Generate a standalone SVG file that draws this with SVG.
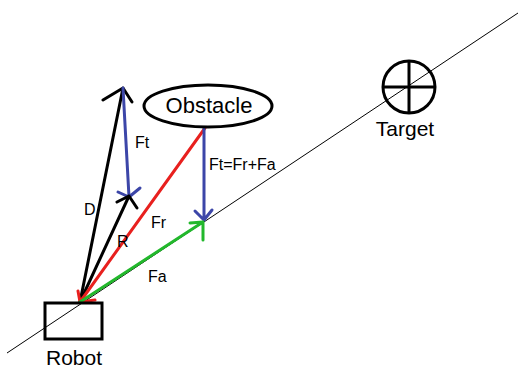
<svg xmlns="http://www.w3.org/2000/svg" width="518" height="369" viewBox="0 0 518 369">
<style>
.t{font-family:"Liberation Sans",Arial,sans-serif;fill:#000}
.v{fill:none;stroke-width:3;stroke-linecap:round;stroke-linejoin:round}
.k{stroke:#000}.b{stroke:#3c46a8}.r{stroke:#e8201e}.g{stroke:#22b82c}
</style>
<rect width="518" height="369" fill="#fff"/>
<g id="connectors">
<line x1="7" y1="353" x2="518" y2="13" stroke="#000" stroke-width="1"/>
<path class="v k" d="M80 302L123 88M103 100L123 88L132 102"/>
<path class="v b" d="M123 88L129 197M118 192L129 197L140 188"/>
<path class="v k" d="M80 302L129 196M117 202L129 196L137 208"/>
<path class="v r" d="M205 128L80 302M78 291L80 302L95 300"/>
<path class="v b" d="M204 128L204 220M195 211L204 220L212 210"/>
<path class="v g" d="M80 302L203 222M190 223L203 222L203 240"/>
<text class="t" x="135" y="148" font-size="16">Ft</text>
<text class="t" x="84" y="215" font-size="16">D</text>
<text class="t" x="117" y="247" font-size="16">R</text>
<text class="t" x="151" y="228" font-size="16">Fr</text>
<text class="t" x="148" y="282" font-size="16">Fa</text>
<text class="t" x="209" y="170" font-size="16">Ft=Fr+Fa</text>
</g>
<g id="robot">
<rect x="45" y="303" width="57" height="36" fill="none" stroke="#000" stroke-width="3"/>
<text class="t" x="74" y="365" font-size="21" text-anchor="middle">Robot</text>
</g>
<g id="obstacle">
<ellipse cx="208" cy="106" rx="64" ry="21" fill="#fff" stroke="#000" stroke-width="3"/>
<text class="t" x="209" y="113" font-size="22" text-anchor="middle">Obstacle</text>
</g>
<g id="target">
<circle cx="409" cy="87" r="26" fill="none" stroke="#000" stroke-width="3"/>
<path d="M383 87H435M409 61V113" stroke="#000" stroke-width="3"/>
<text class="t" x="405" y="136" font-size="21" text-anchor="middle">Target</text>
</g>
</svg>
